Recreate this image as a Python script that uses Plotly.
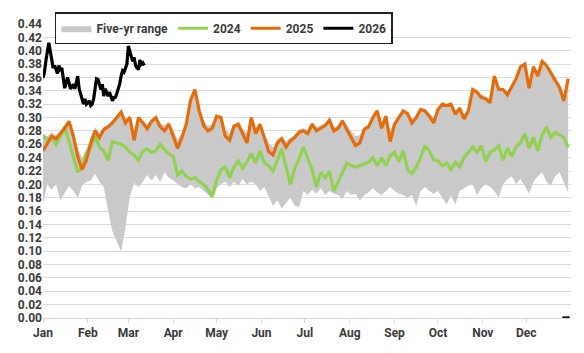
import pandas as pd
import plotly.graph_objects as go

# ---- data ----
grid_days = list(range(0, 364, 3))  # every third day of the year

range_low = [
    0.172, 0.200, 0.192, 0.200, 0.176, 0.188, 0.198, 0.190, 0.180, 0.198,
    0.204, 0.206, 0.216, 0.204, 0.196, 0.160, 0.130, 0.114, 0.100, 0.135,
    0.182, 0.202, 0.196, 0.204, 0.214, 0.206, 0.214, 0.204, 0.218, 0.210,
    0.206, 0.200, 0.196, 0.194, 0.200, 0.194, 0.196, 0.190, 0.185, 0.178,
    0.194, 0.200, 0.204, 0.196, 0.204, 0.198, 0.208, 0.200, 0.204, 0.200,
    0.190, 0.196, 0.182, 0.168, 0.176, 0.164, 0.172, 0.180, 0.168, 0.166,
    0.190, 0.184, 0.192, 0.186, 0.194, 0.184, 0.190, 0.186, 0.184, 0.178,
    0.190, 0.184, 0.186, 0.176, 0.184, 0.188, 0.194, 0.188, 0.184, 0.190,
    0.196, 0.190, 0.186, 0.184, 0.180, 0.184, 0.168, 0.190, 0.196, 0.190,
    0.186, 0.190, 0.180, 0.170, 0.184, 0.170, 0.190, 0.194, 0.198, 0.200,
    0.184, 0.195, 0.200, 0.196, 0.190, 0.180, 0.200, 0.208, 0.212, 0.200,
    0.208, 0.198, 0.186, 0.204, 0.212, 0.218, 0.204, 0.198, 0.212, 0.218,
    0.202, 0.188,
]

range_high = [
    0.276, 0.272, 0.278, 0.274, 0.280, 0.290, 0.298, 0.280, 0.254, 0.240,
    0.254, 0.268, 0.286, 0.276, 0.286, 0.290, 0.296, 0.304, 0.310, 0.298,
    0.304, 0.282, 0.302, 0.296, 0.290, 0.298, 0.302, 0.292, 0.288, 0.294,
    0.282, 0.268, 0.276, 0.294, 0.328, 0.344, 0.316, 0.296, 0.288, 0.290,
    0.304, 0.302, 0.282, 0.276, 0.290, 0.292, 0.284, 0.276, 0.302, 0.284,
    0.292, 0.278, 0.262, 0.256, 0.268, 0.272, 0.264, 0.270, 0.274, 0.282,
    0.284, 0.282, 0.292, 0.286, 0.288, 0.292, 0.298, 0.286, 0.288, 0.298,
    0.288, 0.280, 0.272, 0.274, 0.286, 0.290, 0.302, 0.312, 0.292, 0.304,
    0.280, 0.294, 0.302, 0.312, 0.308, 0.298, 0.302, 0.314, 0.312, 0.306,
    0.300, 0.314, 0.322, 0.320, 0.322, 0.310, 0.316, 0.304, 0.312, 0.342,
    0.340, 0.334, 0.332, 0.328, 0.362, 0.346, 0.344, 0.338, 0.348, 0.360,
    0.376, 0.380, 0.352, 0.376, 0.366, 0.384, 0.378, 0.368, 0.360, 0.350,
    0.332, 0.358,
]

y2024 = [
    0.272, 0.266, 0.270, 0.260, 0.272, 0.286, 0.264, 0.240, 0.218, 0.226,
    0.246, 0.256, 0.272, 0.256, 0.250, 0.236, 0.264, 0.262, 0.260, 0.256,
    0.248, 0.244, 0.236, 0.250, 0.253, 0.248, 0.250, 0.260, 0.252, 0.246,
    0.242, 0.214, 0.220, 0.212, 0.208, 0.210, 0.204, 0.200, 0.192, 0.182,
    0.206, 0.222, 0.226, 0.210, 0.226, 0.235, 0.224, 0.234, 0.246, 0.232,
    0.250, 0.232, 0.228, 0.220, 0.238, 0.253, 0.226, 0.200, 0.224, 0.238,
    0.256, 0.240, 0.222, 0.196, 0.218, 0.210, 0.220, 0.190, 0.204, 0.220,
    0.232, 0.228, 0.226, 0.228, 0.230, 0.233, 0.240, 0.228, 0.240, 0.228,
    0.243, 0.248, 0.234, 0.250, 0.222, 0.216, 0.226, 0.240, 0.258, 0.250,
    0.237, 0.235, 0.228, 0.232, 0.222, 0.233, 0.226, 0.240, 0.248, 0.256,
    0.248, 0.258, 0.234, 0.248, 0.252, 0.258, 0.236, 0.254, 0.242, 0.256,
    0.262, 0.276, 0.254, 0.270, 0.250, 0.274, 0.286, 0.270, 0.278, 0.274,
    0.270, 0.255,
]

y2025 = [
    0.250, 0.262, 0.272, 0.268, 0.276, 0.284, 0.294, 0.272, 0.242, 0.222,
    0.236, 0.262, 0.280, 0.270, 0.282, 0.286, 0.292, 0.300, 0.308, 0.292,
    0.300, 0.266, 0.300, 0.292, 0.283, 0.294, 0.300, 0.286, 0.280, 0.290,
    0.272, 0.254, 0.270, 0.290, 0.326, 0.342, 0.310, 0.288, 0.280, 0.284,
    0.302, 0.300, 0.272, 0.266, 0.287, 0.290, 0.276, 0.262, 0.300, 0.276,
    0.290, 0.270, 0.249, 0.244, 0.262, 0.268, 0.256, 0.265, 0.270, 0.278,
    0.280, 0.276, 0.290, 0.280, 0.284, 0.288, 0.296, 0.280, 0.284, 0.295,
    0.282, 0.270, 0.258, 0.262, 0.282, 0.286, 0.300, 0.310, 0.284, 0.302,
    0.264, 0.290, 0.300, 0.310, 0.306, 0.292, 0.300, 0.312, 0.310, 0.302,
    0.292, 0.312, 0.320, 0.318, 0.320, 0.305, 0.314, 0.298, 0.310, 0.342,
    0.338, 0.330, 0.328, 0.322, 0.362, 0.342, 0.342, 0.334, 0.346, 0.358,
    0.376, 0.380, 0.344, 0.376, 0.362, 0.384, 0.378, 0.366, 0.356, 0.345,
    0.325, 0.358,
]

days_2026 = list(range(0, 71))
y2026 = [
    0.359, 0.368, 0.385, 0.398, 0.412, 0.400, 0.388, 0.374, 0.378, 0.370,
    0.366, 0.378, 0.372, 0.374, 0.360, 0.344, 0.352, 0.360, 0.352, 0.343,
    0.346, 0.350, 0.343, 0.355, 0.362, 0.343, 0.336, 0.330, 0.320, 0.328,
    0.320, 0.322, 0.325, 0.318, 0.320, 0.328, 0.340, 0.358, 0.357, 0.348,
    0.342, 0.350, 0.332, 0.343, 0.338, 0.332, 0.338, 0.330, 0.325, 0.330,
    0.330, 0.336, 0.342, 0.350, 0.362, 0.370, 0.368, 0.374, 0.380, 0.407,
    0.398, 0.392, 0.384, 0.390, 0.378, 0.374, 0.372, 0.386, 0.380, 0.382,
    0.378,
]
# short segment at zero at the very end of the year
days_2026_end = [359, 364]
y2026_end = [0.0, 0.0]

tick_labels = ["Jan", "Feb", "Mar", "Apr", "May", "Jun",
               "Jul", "Aug", "Sep", "Oct", "Nov", "Dec"]

# ---- build ----
base = pd.Timestamp("2025-01-01")
x_grid = [base + pd.Timedelta(days=d) for d in grid_days]
x26 = [base + pd.Timedelta(days=d) for d in days_2026] + [None] + \
      [base + pd.Timedelta(days=d) for d in days_2026_end]
y26 = y2026 + [None] + y2026_end

GREY = "#c9c9c9"
GREEN = "#92d050"
ORANGE = "#e46c0a"
TXT = "#3a3a3a"

fig = go.Figure()
fig.add_trace(go.Scatter(x=x_grid, y=range_low, mode="lines",
                         line=dict(width=0, color=GREY), showlegend=False,
                         hoverinfo="skip"))
fig.add_trace(go.Scatter(x=x_grid, y=range_high, mode="lines", fill="tonexty",
                         fillcolor=GREY, line=dict(width=0, color=GREY),
                         name="Five-yr range"))
fig.add_trace(go.Scatter(x=x_grid, y=y2024, mode="lines",
                         line=dict(width=3.2, color=GREEN), name="2024"))
fig.add_trace(go.Scatter(x=x_grid, y=y2025, mode="lines",
                         line=dict(width=3.2, color=ORANGE), name="2025"))
fig.add_trace(go.Scatter(x=x26, y=y26, mode="lines", connectgaps=False,
                         line=dict(width=3.2, color="#000000"), name="2026"))

month_starts = [pd.Timestamp(f"2025-{m:02d}-01") for m in range(1, 13)]

fig.update_layout(
    width=584, height=353, autosize=False,
    margin=dict(l=43, r=13, t=14, b=35),
    paper_bgcolor="white", plot_bgcolor="white",
    font=dict(family="Roboto", size=12, color=TXT, weight="bold"),
    legend=dict(orientation="h", x=0.0227, y=1.04, xanchor="left", yanchor="top",
                traceorder="normal",
                bgcolor="white", bordercolor="#222222", borderwidth=1.5,
                font=dict(family="Roboto", size=12, color=TXT, weight="bold"),
                itemwidth=30, tracegroupgap=0),
    xaxis=dict(
        range=[pd.Timestamp("2025-01-01"), pd.Timestamp("2025-12-31 23:00")],
        tickvals=month_starts, ticktext=tick_labels,
        showgrid=False, showline=True, linecolor="#d9d9d9", linewidth=1,
        ticks="outside", ticklen=4, tickcolor="#d9d9d9",
        tickfont=dict(family="Roboto", size=12, color=TXT, weight="bold"),
        zeroline=False,
    ),
    yaxis=dict(
        range=[0, 0.44], dtick=0.02, tickformat=".2f",
        showgrid=True, gridcolor="#dcdcdc", gridwidth=1,
        zeroline=False, showline=False, ticks="",
        tickfont=dict(family="Roboto", size=12, color=TXT, weight="bold"),
    ),
)

fig.write_html("out.html")
